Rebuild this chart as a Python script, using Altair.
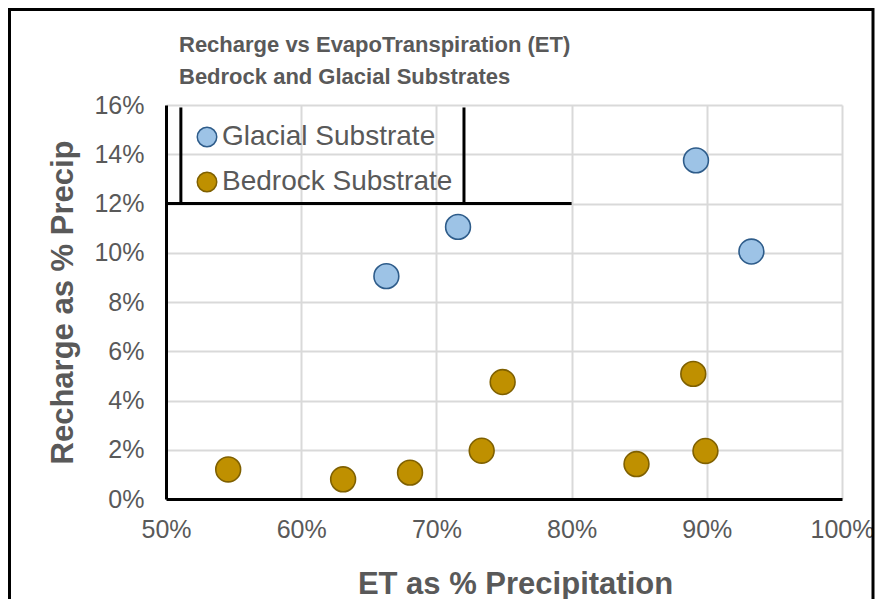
import altair as alt
import pandas as pd

# ---- data ----
series_names = ["Glacial Substrate", "Bedrock Substrate"]
glacial_et = [0.663, 0.716, 0.892, 0.933]
glacial_recharge = [0.0905, 0.1105, 0.1375, 0.1005]
bedrock_et = [0.546, 0.631, 0.6805, 0.7335, 0.749, 0.848, 0.890, 0.899]
bedrock_recharge = [0.0120, 0.0080, 0.0107, 0.0196, 0.0475, 0.0142, 0.0508, 0.0195]

x_ticks = [0.5, 0.6, 0.7, 0.8, 0.9, 1.0]
y_ticks = [0.0, 0.02, 0.04, 0.06, 0.08, 0.10, 0.12, 0.14, 0.16]

# decorative black lines seen in the reference (in data units)
hline_y = [0.12]
hline_x = [0.5]
hline_x2 = [0.8]
vline_x = [0.511, 0.7204]
vline_y = [0.12, 0.12]
vline_y2 = [0.159, 0.159]

rows = []
for e, r in zip(glacial_et, glacial_recharge):
    rows.append({"et": e, "recharge": r, "series": series_names[0]})
for e, r in zip(bedrock_et, bedrock_recharge):
    rows.append({"et": e, "recharge": r, "series": series_names[1]})
df = pd.DataFrame(rows)

TXT = "#595959"
FONT = "Liberation Sans"

xscale = alt.Scale(domain=[0.5, 1.0], nice=False, zero=False)
yscale = alt.Scale(domain=[0.0, 0.16], nice=False, zero=False)


def legend():
    return alt.Legend(title=None, orient="none", legendX=27, legendY=18,
                      symbolSize=380, labelFontSize=28, labelColor=TXT,
                      labelFont=FONT, rowPadding=17, labelOffset=1, labelLimit=0,
                      padding=0, symbolStrokeWidth=1.5)


points = alt.Chart(df).mark_circle(size=616, opacity=1, strokeWidth=1.6).encode(
    x=alt.X("et:Q", scale=xscale,
            axis=alt.Axis(title="ET as % Precipitation", format=".0%", values=x_ticks,
                          titleY=94, titleX=349, titleBaseline="alphabetic",
                          labelFlush=False)),
    y=alt.Y("recharge:Q", scale=yscale,
            axis=alt.Axis(title="Recharge as % Precip", format=".0%", values=y_ticks,
                          titleX=-94, titleY=197, titleBaseline="alphabetic",
                          labelFlush=False)),
    fill=alt.Fill("series:N",
                  scale=alt.Scale(domain=series_names, range=["#9DC3E6", "#BF9000"]),
                  legend=legend()),
    stroke=alt.Stroke("series:N",
                      scale=alt.Scale(domain=series_names, range=["#2E5C8A", "#7F6000"]),
                      legend=legend()),
)

hdf = pd.DataFrame({"x": hline_x, "x2": hline_x2, "y": hline_y})
hrule = alt.Chart(hdf).mark_rule(color="black", strokeWidth=3).encode(
    x=alt.X("x:Q", scale=xscale), x2="x2:Q", y=alt.Y("y:Q", scale=yscale)
)
vdf = pd.DataFrame({"x": vline_x, "y": vline_y, "y2": vline_y2})
vrule = alt.Chart(vdf).mark_rule(color="black", strokeWidth=3).encode(
    x=alt.X("x:Q", scale=xscale), y=alt.Y("y:Q", scale=yscale), y2="y2:Q"
)

frame = alt.Chart(pd.DataFrame({"k": [0]})).mark_rect(
    fill=None, stroke="black", strokeWidth=3
).encode(
    x=alt.value(-156.5), x2=alt.value(707), y=alt.value(-95.5), y2=alt.value(560)
)

chart = alt.layer(hrule, vrule, points, frame).properties(
    width=676, height=394,
    autosize=alt.AutoSizeParams(type="none"),
    padding={"left": 158, "top": 97, "right": 33, "bottom": 100},
    title=alt.TitleParams(
        text=["Recharge vs EvapoTranspiration (ET)", "Bedrock and Glacial Substrates"],
        anchor="start", frame="group", dx=13, offset=5, dy=86, fontSize=22,
        font="Liberation Sans Narrow, Arial Narrow, Liberation Sans",
        fontWeight="bold", color=TXT, lineHeight=32,
    ),
).configure_view(stroke=None).configure_axis(
    grid=True, gridColor="#D9D9D9", gridWidth=2, domainColor="black", domainWidth=3,
    ticks=False, labelFont=FONT, labelFontSize=25, labelColor=TXT,
    titleFont=FONT, titleFontSize=31, titleFontWeight="bold", titleColor=TXT,
).configure_axisX(labelPadding=18).configure_axisY(labelPadding=22)

chart.save("out.html", embed_options={"renderer": "svg", "actions": False})
